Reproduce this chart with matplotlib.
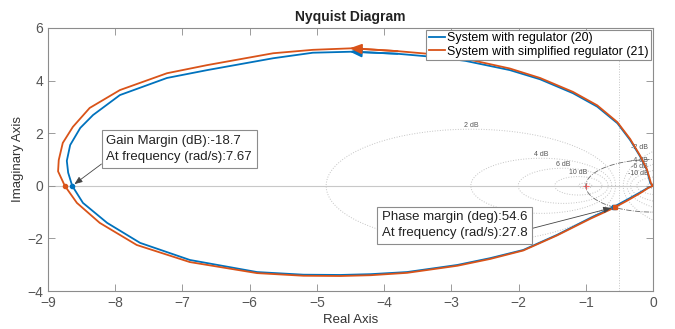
import numpy as np
import matplotlib
matplotlib.use("Agg")
import matplotlib.pyplot as plt

plt.rcParams['font.family'] = ['Liberation Sans', 'DejaVu Sans']

# Nyquist curves (real / imaginary part)
blue_re = [0.00, -0.04, -0.09, -0.19, -0.34, -0.53, -0.83, -1.19, -1.68, -2.13, -2.79, -3.17, -3.80, -4.46,
           -5.06, -5.65, -6.63, -7.23, -7.93, -8.33, -8.52, -8.67, -8.72, -8.70, -8.64, -8.48, -8.12, -7.63,
           -6.89, -5.89, -5.20, -4.65, -4.20, -3.66, -2.91, -2.42, -1.93, -1.43, -0.93, -0.59, -0.38, -0.19,
           -0.07, 0.00]
blue_im = [0.00, 0.10, 0.60, 1.11, 1.74, 2.38, 3.01, 3.52, 4.05, 4.40, 4.75, 4.88, 5.02, 5.10,
           5.06, 4.85, 4.40, 4.10, 3.45, 2.69, 2.20, 1.55, 0.95, 0.50, 0.00, -0.65, -1.41, -2.17,
           -2.82, -3.28, -3.38, -3.39, -3.36, -3.28, -3.01, -2.75, -2.44, -1.87, -1.22, -0.81, -0.52, -0.25,
           -0.07, 0.00]
orange_re = [0.00, -0.03, -0.09, -0.19, -0.34, -0.53, -0.83, -1.19, -1.68, -2.13, -2.79, -3.17, -3.80, -4.46,
             -5.06, -5.65, -6.63, -7.23, -7.93, -8.38, -8.63, -8.78, -8.84, -8.85, -8.75, -8.57, -8.23, -7.68,
             -6.89, -5.89, -5.20, -4.65, -4.20, -3.66, -2.91, -2.42, -1.93, -1.43, -0.93, -0.59, -0.38, -0.19,
             -0.07, 0.00]
orange_im = [0.00, 0.10, 0.62, 1.14, 1.78, 2.42, 3.06, 3.57, 4.10, 4.46, 4.83, 4.98, 5.12, 5.23,
             5.17, 5.04, 4.59, 4.28, 3.64, 2.96, 2.24, 1.63, 0.98, 0.55, 0.00, -0.65, -1.41, -2.25,
             -2.90, -3.32, -3.42, -3.43, -3.40, -3.31, -3.04, -2.78, -2.46, -1.89, -1.25, -0.85, -0.56, -0.28,
             -0.08, 0.00]
labels = ["System with regulator (20)", "System with simplified regulator (21)"]

# margins
gm_db = -18.7
gm_w = 7.67
pm_deg = 54.6
pm_w = 27.8
gm_cross_blue = -8.64
gm_cross_orange = -8.75

# M-circles of the grid (dB)
m_db = [2, 4, 6, 10, 20, -2, -4, -6, -10, -20]
m_labeled = [2, 4, 6, 10, -2, -4, -6, -10]

c_blue = '#0072BD'
c_orange = '#D95319'
grid_c = '#c4c4c4'

fig = plt.figure(figsize=(6.75, 3.29), dpi=100)
ax = fig.add_axes([0.0711, 0.1155, 0.8963, 0.7994])

# grid: M circles
t = np.linspace(0, 2 * np.pi, 400)
for db in m_db:
    M = 10 ** (db / 20)
    c = -M**2 / (M**2 - 1)
    r = abs(M / (M**2 - 1))
    ax.plot(c + r * np.cos(t), r * np.sin(t), ':', color=grid_c, lw=0.7, zorder=1)
    if db in m_labeled:
        if db > 0:
            ax.text(c, r + 0.15, f"{db} dB", fontsize=5, color='#555555', ha='center', va='center')
        else:
            ax.text(-0.07, np.sqrt(r**2 - c**2) + 0.15, f"{db} dB", fontsize=5, color='#555555',
                    ha='right', va='center')
ax.axvline(-0.5, color=grid_c, ls=':', lw=0.7, zorder=1)
ax.axhline(0, color='#c8c8c8', lw=0.8, zorder=1)
ax.plot(-1, 0, '+', color='#ff6060', ms=5, mew=0.8, zorder=2)

# unit circle
ax.plot(np.cos(t), np.sin(t), '-.', color='#6a6a6a', lw=0.6, zorder=2)

# curves
ax.plot(blue_re, blue_im, color=c_blue, lw=1.3, label=labels[0], zorder=3)
ax.plot(orange_re, orange_im, color=c_orange, lw=1.3, label=labels[1], zorder=4)

# direction arrows
for re, im, col in [(blue_re, blue_im, c_blue), (orange_re, orange_im, c_orange)]:
    ax.annotate('', xy=(re[13] - 0.05, im[13]), xytext=(re[12], im[12]),
                arrowprops=dict(arrowstyle='-|>,head_length=0.7,head_width=0.3', color=col, lw=1.3,
                                shrinkA=0, shrinkB=0), zorder=5)

# margin markers
ax.plot(gm_cross_blue, 0, 'o', color=c_blue, ms=3, zorder=5)
ax.plot(gm_cross_orange, 0, 'o', color=c_orange, ms=3, zorder=5)
ph = np.deg2rad(-180 + pm_deg)
ax.plot(np.cos(ph), np.sin(ph), 's', color=c_blue, ms=3, zorder=5)
ax.plot(np.cos(ph) + 0.02, np.sin(ph), 's', color=c_orange, ms=3, zorder=6)

box = dict(boxstyle='square,pad=0.35', fc='white', ec='#8c8c8c', lw=0.8)
arr = dict(arrowstyle='-|>,head_length=0.5,head_width=0.2', color='#444444', lw=0.6, shrinkA=0, shrinkB=2)
ax.annotate(f"Gain Margin (dB):{gm_db}\nAt frequency (rad/s):{gm_w}", xy=(gm_cross_blue, 0),
            xytext=(-8.13, 1.93), fontsize=9.5, ha='left', va='top', color='#222222',
            bbox=box, arrowprops=dict(arr, relpos=(0, 0.1)), zorder=7, linespacing=1.45)
ax.annotate(f"Phase margin (deg):{pm_deg}\nAt frequency (rad/s):{pm_w}", xy=(np.cos(ph), np.sin(ph)),
            xytext=(-4.03, -0.97), fontsize=9.5, ha='left', va='top', color='#222222',
            bbox=box, arrowprops=dict(arr, relpos=(1, 0.35)), zorder=7, linespacing=1.45)

ax.set_xlim(-9, 0)
ax.set_ylim(-4, 6)
ax.set_xticks(range(-9, 1))
ax.set_yticks(range(-4, 7, 2))
ax.tick_params(direction='in', length=5, width=0.6, color='#8c8c8c', labelcolor='#555555',
               labelsize=10, top=True, right=True)
for s in ax.spines.values():
    s.set_color('#8c8c8c')
    s.set_linewidth(0.8)

ax.set_title('Nyquist Diagram', fontsize=10, fontweight='bold', color='#222222', pad=5)
ax.set_xlabel('Real Axis', fontsize=9.5, color='#333333', labelpad=3)
ax.set_ylabel('Imaginary Axis', fontsize=9.5, color='#333333', labelpad=2)

leg = ax.legend(loc='upper right', fontsize=8.9, handlelength=1.3, handletextpad=0.2,
                borderpad=0.2, labelspacing=0.1, fancybox=False, framealpha=1,
                edgecolor='#8c8c8c', borderaxespad=0.15)
leg.get_frame().set_linewidth(0.8)

fig.savefig('out.png', dpi=100)
